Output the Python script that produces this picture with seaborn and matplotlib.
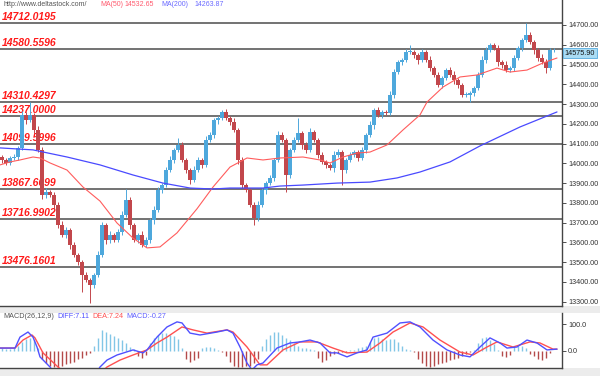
import matplotlib
matplotlib.use("Agg")
import numpy as np
import pandas as pd
import seaborn as sns
import matplotlib.pyplot as plt
from matplotlib import transforms
from matplotlib.patches import Rectangle

# ---------------- data ----------------
first_open = 14030
closes = [
    14017, 14002, 14027, 14032, 14078, 14245, 14220, 14245, 14170, 14067,
    13840, 13855, 13840, 13790, 13688, 13637, 13662, 13587, 13536, 13500,
    13435, 13410, 13384, 13435, 13536, 13688, 13612, 13637, 13612, 13652,
    13739, 13814, 13688, 13612, 13637, 13587, 13612, 13713, 13764, 13865,
    13890, 13966, 14017, 14068, 14093, 14017, 13966, 13916, 13966, 14017,
    13992, 14118, 14143, 14219, 14230, 14260, 14230, 14209, 14169, 14017,
    13890, 13865, 13789, 13723, 13789, 13865, 13900, 13926, 14017, 14143,
    14118, 13941, 14068, 14118, 14154, 14093, 14068, 14159, 14118, 14042,
    14007, 13992, 13976, 14042, 14057, 13966, 14017, 14042, 14057, 14027,
    14068, 14143, 14194, 14270, 14245, 14260, 14255, 14346, 14462, 14513,
    14523, 14563, 14563, 14548, 14523, 14563, 14523, 14482, 14447, 14396,
    14432, 14472, 14447, 14422, 14396, 14346, 14346, 14356, 14381, 14447,
    14523, 14573, 14599, 14583, 14513, 14498, 14472, 14482, 14533, 14583,
    14624, 14649, 14614, 14573, 14533, 14513, 14482, 14573, 14576]
wick_up = [
    10, 12, 8, 15, 10, 20, 15, 65, 10, 20,
    15, 20, 10, 15, 12, 20, 15, 10, 15, 12,
    10, 15, 10, 12, 20, 15, 10, 20, 12, 15,
    20, 56, 15, 10, 12, 20, 15, 10, 20, 15,
    12, 15, 20, 10, 35, 15, 12, 10, 20, 15,
    10, 20, 15, 12, 10, 10, 15, 12, 20, 10,
    15, 12, 10, 15, 20, 12, 10, 15, 12, 20,
    15, 10, 12, 15, 76, 10, 15, 20, 12, 10,
    15, 12, 10, 20, 15, 12, 10, 15, 12, 10,
    15, 12, 20, 10, 15, 12, 10, 20, 15, 12,
    10, 15, 36, 12, 10, 15, 12, 20, 10, 15,
    12, 10, 15, 20, 12, 10, 15, 12, 10, 15,
    20, 15, 12, 10, 15, 12, 20, 10, 15, 12,
    10, 61, 15, 12, 10, 20, 15, 12, 10]
wick_dn = [
    15, 10, 12, 10, 15, 12, 20, 10, 15, 10,
    20, 15, 12, 20, 15, 10, 15, 20, 12, 15,
    85, 12, 91, 15, 10, 12, 20, 15, 10, 12,
    15, 10, 20, 12, 15, 10, 12, 15, 20, 10,
    15, 12, 10, 15, 12, 10, 15, 20, 12, 10,
    15, 10, 12, 15, 20, 10, 12, 15, 10, 20,
    15, 12, 10, 35, 15, 12, 20, 10, 15, 12,
    10, 86, 15, 12, 10, 20, 15, 12, 10, 15,
    12, 15, 10, 20, 12, 76, 15, 10, 12, 15,
    10, 15, 12, 20, 10, 15, 12, 10, 15, 12,
    15, 10, 12, 15, 20, 10, 12, 15, 10, 12,
    15, 12, 10, 20, 15, 12, 10, 36, 15, 12,
    10, 15, 12, 10, 20, 15, 12, 10, 15, 12,
    15, 10, 12, 20, 15, 10, 25, 12, 10]

ma50_x = [-0.5, 2, 4.5, 7.75, 9.5, 12, 16.25, 20.25, 24.5, 28.75, 32.75,
          36.25, 39.5, 43.75, 48.75, 52.75, 57, 61.25, 65.25, 69.5, 75.25,
          79.5, 82, 85.25, 88.75, 92, 96.25, 100.25, 104.5, 106.25, 110.25,
          114.5, 118.75, 123.75, 127, 131.25, 135.25, 138.75]
ma50_v = [13992, 14007, 14017, 14032, 14027, 14002, 13966, 13880, 13809, 13698, 13622,
          13572, 13577, 13648, 13770, 13880, 13981, 14027, 14017, 14027, 14032,
          14017, 14002, 14032, 14052, 14057, 14093, 14169, 14245, 14310, 14386,
          14437, 14447, 14482, 14462, 14472, 14508, 14533]
ma200_x = [-0.5, 7.75, 16.25, 24.5, 32.75, 40.25, 47, 52.75, 57, 65.25, 69.5,
           75.25, 83.75, 92, 98.75, 104.5, 112, 119.5, 129.5, 138.75]
ma200_v = [14078, 14068, 14032, 13992, 13941, 13900, 13875, 13870, 13875, 13875, 13885,
           13890, 13900, 13905, 13926, 13956, 14007, 14088, 14184, 14260]

levels = [14712.0195, 14580.5596, 14310.4297, 14237.0000,
          14099.5996, 13867.6699, 13716.9902, 13476.1601]
level_labels = ["14712.0195", "14580.5596", "14310.4297", "14237.0000",
                "14099.5996", "13867.6699", "13716.9902", "13476.1601"]
price_ticks = [13300, 13400, 13500, 13600, 13700, 13800, 13900, 14000,
               14100, 14200, 14300, 14400, 14500, 14600, 14700]
last_price = 14575.90

diff_x = [-0.5, 3.25, 4.5, 6.5, 7.75, 8.75, 9.5, 12, 14.5, 19.5, 23.25, 24.5, 26.25,
          28.75, 32.75, 35.25, 36.25, 38.75, 41.25, 43.75, 45, 47, 49.5, 53.75, 56.25,
          57.75, 59.5, 61.25, 62.5, 63.75, 65.25, 68.75, 72, 74.5, 77, 79.5, 82, 83.75,
          86.25, 88.75, 91.25, 92.75, 96.25, 99.5, 102, 104.5, 107.75, 111.25, 114.5,
          117, 119.5, 122, 124.5, 126.25, 128.75, 131.25, 133.75, 136.25, 138.75]
diff_v = [11, 11, 52, 71, 52, 15, -22, -60, -109, -127, -90, -60, -34,
          -15, 4, -7, 4, 52, 90, 109, 105, 67, 60, 71, 79,
          67, 15, -45, -71, -52, -45, 11, 30, 34, 41, 30, -7, -7,
          -22, -7, 4, 52, 67, 105, 109, 90, 41, 4, -15,
          -22, 15, 49, 30, 11, 15, 41, 30, 4, 7]
dea_x = [-0.5, 3.25, 5.25, 7.5, 8.25, 10.25, 14, 18.25, 23.25, 26.25, 29.5, 32.75,
         36.25, 38.75, 41.25, 45, 47.75, 51.25, 56.25, 57.75, 61.25, 64.5, 66.25,
         70.25, 74.5, 78.75, 82.75, 86.25, 91.25, 94.5, 97.75, 102, 105.25, 109.5,
         114.5, 117.75, 121.25, 123.75, 127.75, 132, 134.5, 137.75, 138.75]
dea_v = [11, 11, 41, 60, 49, -7, -60, -109, -101, -60, -34, -15,
         4, 30, 52, 90, 79, 67, 79, 71, 15, -52, -52,
         4, 34, 34, 11, -7, -4, 30, 71, 105, 90, 41,
         -4, -15, 15, 34, 15, 34, 30, 7, 7]
hist = [11, 8, 8, 11,
        20, 35, 45, 50, 40,
        10,
        -30, -45, -55, -60, -60,
        -55, -50, -45, -40, -30, -25, -15, -8,
        20, 50, 78,
        70, 65, 55, 48, 40,
        30, 15, 8,
        -20, -26, -15,
        30, 50, 60, 67, 67, 60, 55, 45,
        10,
        -30, -41, -35, -25,
        10, 15, 15, 12,
        5, -5,
        -20, -40, -55, -60, -60, -58, -55, -45, -30,
        20, 45, 60, 70, 70, 60, 50,
        40, 30, 20,
        12, 10, 8, 5,
        -25, -41, -35, -20,
        -10, -8, -5, -3,
        3, 5, 10, 15,
        20, 35, 50, 52,
        45, 40, 45, 44, 35, 20,
        8, 5, -5,
        -30, -45, -55, -60, -58, -50,
        -45, -40, -35, -30, -25, -18,
        -10, -5, 5,
        30, 50, 52, 40, 25,
        5,
        -20, -22, -15,
        15, 20, 18, 10,
        -10, -20, -30, -34, -25,
        -8, -1]
macd_ticks = [0, 100]

# ---------------- figure ----------------
sns.set_style("white")
plt.rcParams['font.family'] = ['Liberation Sans', 'DejaVu Sans']

W, H = 600, 376
fig = plt.figure(figsize=(6, 3.76), dpi=100, facecolor='#ececec')


def rect(l, t, r, b):
    return [l / W, 1 - b / H, (r - l) / W, (b - t) / H]


# white panels behind the right-side scales
fig.patches.append(Rectangle((562 / W, 1 - 306 / H), 38 / W, 306 / H,
                             transform=fig.transFigure, fc='white', ec='none', zorder=-5))
fig.patches.append(Rectangle((562 / W, 1 - 368 / H), 38 / W, 55 / H,
                             transform=fig.transFigure, fc='white', ec='none', zorder=-5))

ax = fig.add_axes(rect(0, 0, 562, 306))
ax.set_facecolor('white')

df = pd.DataFrame({"close": closes, "wu": wick_up, "wd": wick_dn})
df["idx"] = np.arange(len(df))
df["open"] = [first_open] + closes[:-1]
df["top"] = df[["open", "close"]].max(axis=1)
df["bot"] = df[["open", "close"]].min(axis=1)
df["high"] = df["top"] + df["wu"]
df["low"] = df["bot"] - df["wd"]
up_col, dn_col = '#4ea8dc', '#c2474c'
cols = np.where(df["close"] >= df["open"], up_col, dn_col)

N = len(df)
x0, x1 = -0.5, 140.0
ax.set_xlim(x0, x1)
ylo, yhi = 13278, 14826.5
ax.set_ylim(ylo, yhi)

for lv in levels:
    ax.axhline(lv, color='#5a5a5a', lw=1.2, zorder=1)

blend = transforms.blended_transform_factory(ax.transAxes, ax.transData)
lab_tr = transforms.offset_copy(blend, fig=fig, x=0, y=3, units='dots')
for lv, lb in zip(levels, level_labels):
    ax.text(0.004, lv, lb, transform=lab_tr, va='baseline', ha='left',
            color='#ff1a1a', fontsize=7.5, fontweight='bold', fontstyle='italic',
            zorder=2)

ax.vlines(df["idx"], df["low"], df["high"], colors=cols, lw=0.7, zorder=3)
ax.bar(df["idx"], np.maximum(df["top"] - df["bot"], 3), bottom=df["bot"],
       width=0.78, color=cols, zorder=4, linewidth=0)

sns.lineplot(x=ma50_x, y=ma50_v, ax=ax, color='#ff5c5c', lw=0.8, zorder=5)
sns.lineplot(x=ma200_x, y=ma200_v, ax=ax, color='#4a4aff', lw=0.9, zorder=5)

ax.set_xticks([])
ax.yaxis.tick_right()
ax.set_yticks(price_ticks)
ax.set_yticklabels([f"{v:.2f}" for v in price_ticks])
ax.tick_params(axis='y', direction='out', length=3, width=0.6, colors='#333333',
               labelsize=5.2, pad=1.5)
for s in ['top', 'left']:
    ax.spines[s].set_visible(False)
for s in ['bottom', 'right']:
    ax.spines[s].set_color('#444444')
    ax.spines[s].set_linewidth(1.0)

ax.annotate(f"{last_price:.2f}", xy=(1, last_price), xycoords=('axes fraction', 'data'),
            xytext=(2.0, -2.8), textcoords='offset points', va='center', ha='left',
            fontsize=5.2, color='#111111', annotation_clip=False, zorder=10,
            bbox=dict(boxstyle='square,pad=0.2', fc='#aadcf4', ec='#55aadd', lw=0.6))

# header
hy = 1 - 5 / H
fig.text(3 / W, hy, "http://www.deltastock.com/", fontsize=5.0, color='#555555', va='center')
fig.text(100 / W, hy, "MA(50)", fontsize=5.0, color='#ff5a6e', va='center')
fig.text(124 / W, hy, "14532.65", fontsize=5.0, color='#ff5a6e', va='center')
fig.text(161 / W, hy, "MA(200)", fontsize=5.0, color='#6a6aff', va='center')
fig.text(194 / W, hy, "14263.87", fontsize=5.0, color='#6a6aff', va='center')

# ---------------- MACD panel ----------------
mx = fig.add_axes(rect(0, 313, 562, 368))
mx.set_facecolor('white')
mx.set_xlim(x0, x1)
mx.set_ylim(-63.7, 142.3)
hcols = np.where(np.array(hist) >= 0, '#82c6e6', '#b44a4a')
mx.vlines(np.arange(N), 0, hist, colors=hcols, lw=1.0, zorder=2)
sns.lineplot(x=diff_x, y=diff_v, ax=mx, color='#5050ff', lw=1.0, zorder=4)
sns.lineplot(x=dea_x, y=dea_v, ax=mx, color='#ff5050', lw=1.0, zorder=3)
mx.set_xticks([])
mx.yaxis.tick_right()
mx.set_yticks(macd_ticks)
mx.set_yticklabels([f"{v:.1f}" for v in macd_ticks])
mx.tick_params(axis='y', direction='out', length=3, width=0.6, colors='#333333',
               labelsize=5.2, pad=1.5)
for s in ['top', 'left']:
    mx.spines[s].set_visible(False)
for s in ['bottom', 'right']:
    mx.spines[s].set_color('#444444')
    mx.spines[s].set_linewidth(1.0)

my = 1 - 317 / H
fig.text(3 / W, my, "MACD(26,12,9)", fontsize=5.2, color='#555555', va='center')
fig.text(57 / W, my, "DIFF:7.11", fontsize=5.2, color='#5050ff', va='center')
fig.text(92 / W, my, "DEA:7.24", fontsize=5.2, color='#ff5050', va='center')
fig.text(126 / W, my, "MACD:-0.27", fontsize=5.2, color='#6060ff', va='center')

fig.savefig("out.png", dpi=100, facecolor=fig.get_facecolor())
